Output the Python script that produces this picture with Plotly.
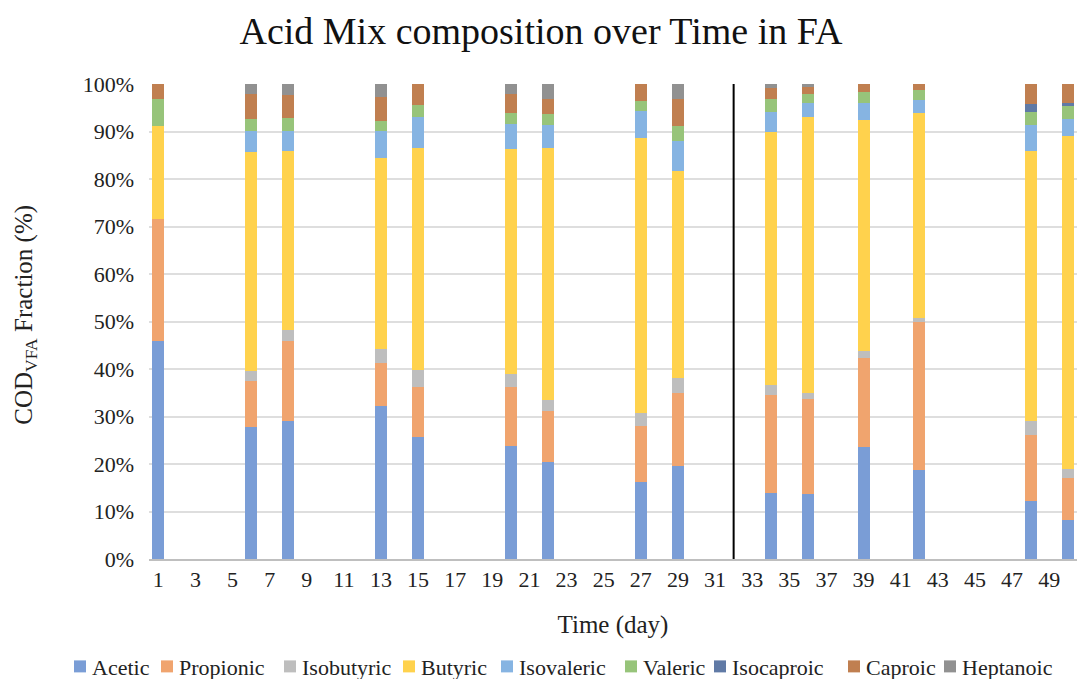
import plotly.graph_objects as go

# Sampling days
days = [1, 6, 8, 13, 15, 20, 22, 27, 29, 34, 36, 39, 42, 48, 50]

# COD fraction (%) of each acid per sampling day
acetic     = [46.0, 27.7, 29.1, 32.2, 25.7, 23.7, 20.4, 16.3, 19.6, 14.0, 13.6, 23.5, 18.8, 12.3, 8.3]
propionic  = [25.5, 9.7, 16.9, 9.1, 10.6, 12.6, 10.8, 11.6, 15.3, 20.6, 20.1, 18.9, 31.0, 13.9, 8.8]
isobutyric = [0.0, 2.2, 2.2, 2.9, 3.5, 2.7, 2.3, 2.8, 3.2, 2.1, 1.3, 1.4, 1.0, 2.9, 1.9]
butyric    = [19.6, 46.1, 37.6, 40.2, 46.7, 47.4, 53.0, 58.0, 43.6, 53.2, 58.0, 48.7, 43.1, 56.9, 70.0]
isovaleric = [0.0, 4.5, 4.4, 5.7, 6.5, 5.2, 4.8, 5.6, 6.4, 4.3, 3.0, 3.6, 2.7, 5.4, 3.7]
valeric    = [5.8, 2.5, 2.6, 2.1, 2.6, 2.3, 2.3, 2.2, 3.0, 2.6, 1.8, 2.2, 2.1, 2.7, 2.6]
isocaproic = [0.0, 0.0, 0.0, 0.0, 0.0, 0.0, 0.0, 0.0, 0.0, 0.0, 0.0, 0.0, 0.0, 1.7, 0.7]
caproic    = [3.1, 5.2, 4.9, 5.0, 4.4, 4.0, 3.3, 3.5, 5.8, 2.4, 1.5, 1.7, 1.3, 4.2, 4.0]
heptanoic  = [0.0, 2.1, 2.3, 2.8, 0.0, 2.1, 3.1, 0.0, 3.1, 0.8, 0.7, 0.0, 0.0, 0.0, 0.0]

# Day at which the operating phase changes
phase_change_day = 32

series = [
    ("Acetic", acetic, "#7A9DD6"),
    ("Propionic", propionic, "#F0A46E"),
    ("Isobutyric", isobutyric, "#BEBEBE"),
    ("Butyric", butyric, "#FFD24D"),
    ("Isovaleric", isovaleric, "#86B4E2"),
    ("Valeric", valeric, "#97C47A"),
    ("Isocaproic", isocaproic, "#607AA6"),
    ("Caproic", caproic, "#C07F50"),
    ("Heptanoic", heptanoic, "#919191"),
]

FONT = "Liberation Serif"
W, H = 1077, 679
ML, MR, MT, MB = 149, 0, 84, 119.5
PW, PH = W - ML - MR, H - MT - MB


def px_to_paper_x(px):
    return (px - ML) / PW


def px_to_paper_y(py):
    return (H - MB - py) / PH


fig = go.Figure()
for name, vals, color in series:
    fig.add_trace(go.Bar(
        x=days, y=vals, name=name, width=0.65, showlegend=False,
        marker=dict(color=color, line=dict(width=0)),
    ))

fig.add_shape(type="line", xref="x", yref="y",
              x0=phase_change_day, x1=phase_change_day, y0=0, y1=100,
              line=dict(color="black", width=2), layer="above")

# Single-row legend along the bottom edge
legend_left_px = [74, 161, 284, 403, 501, 625, 714, 848, 944]
legend_y_px = 667
sq = 12
for (name, _, color), lx in zip(series, legend_left_px):
    fig.add_shape(type="rect", xref="paper", yref="paper",
                  x0=px_to_paper_x(lx), x1=px_to_paper_x(lx + sq),
                  y0=px_to_paper_y(legend_y_px + sq / 2), y1=px_to_paper_y(legend_y_px - sq / 2),
                  fillcolor=color, line=dict(width=0))
    fig.add_annotation(x=px_to_paper_x(lx + sq + 4), y=px_to_paper_y(legend_y_px + 1),
                       xref="paper", yref="paper", xanchor="left", yanchor="middle",
                       text=name, showarrow=False,
                       font=dict(family=FONT, size=22, color="#222222"))

# Vertical axis title
fig.add_annotation(x=px_to_paper_x(26), y=px_to_paper_y(315), xref="paper", yref="paper",
                   text="COD<sub>VFA</sub> Fraction (%)", textangle=-90, showarrow=False,
                   xanchor="center", yanchor="middle",
                   font=dict(family=FONT, size=25, color="#222222"))

fig.update_layout(
    width=W, height=H,
    barmode="stack",
    paper_bgcolor="white", plot_bgcolor="white",
    margin=dict(l=ML, r=MR, t=MT, b=MB, autoexpand=False),
    font=dict(family=FONT, size=22, color="#222222"),
    title=dict(text="Acid Mix composition over Time in FA",
               x=px_to_paper_x(541), xref="paper", xanchor="center",
               y=1 - 31 / H, yanchor="middle",
               font=dict(family=FONT, size=38, color="#111111")),
    xaxis=dict(
        range=[0.5, 50.5], tickmode="array",
        tickvals=list(range(1, 50, 2)),
        ticktext=[str(d) for d in range(1, 50, 2)],
        showgrid=False, zeroline=False,
        showline=True, linecolor="#BFBFBF", linewidth=1.5,
        ticks="", ticklen=0,
        tickfont=dict(size=22),
        title=dict(text="Time (day)", font=dict(size=25), standoff=24),
        automargin=False,
    ),
    yaxis=dict(
        range=[0, 100], dtick=10, ticksuffix="%",
        showgrid=True, gridcolor="#DEDEDE", gridwidth=1.5,
        zeroline=False, showline=False, ticks="",
        tickfont=dict(size=22), ticklabelstandoff=14,
        automargin=False,
    ),
    showlegend=False,
    bargap=0,
)

fig.write_html("out.html")
